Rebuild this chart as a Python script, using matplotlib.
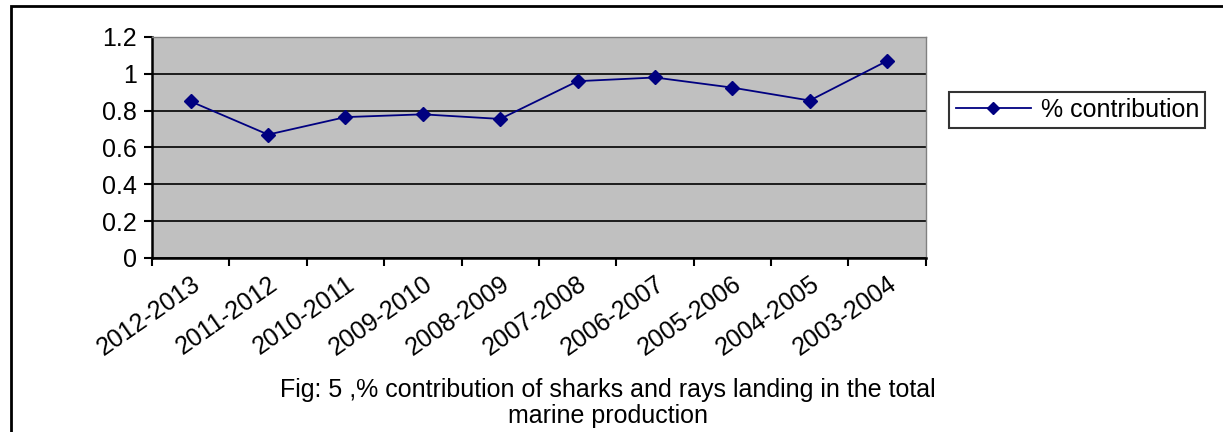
import matplotlib.pyplot as plt
from matplotlib.patches import Rectangle
from matplotlib.ticker import FixedLocator, NullFormatter

plt.rcParams['font.family'] = ['Liberation Sans', 'DejaVu Sans']

# data
years = ['2012-2013', '2011-2012', '2010-2011', '2009-2010', '2008-2009',
         '2007-2008', '2006-2007', '2005-2006', '2004-2005', '2003-2004']
contribution = [0.85, 0.67, 0.765, 0.78, 0.755, 0.96, 0.98, 0.925, 0.855, 1.07]
y_ticks = [0, 0.2, 0.4, 0.6, 0.8, 1, 1.2]
y_labels = ['0', '0.2', '0.4', '0.6', '0.8', '1', '1.2']

fig = plt.figure(figsize=(12.23, 4.32), dpi=100)
ax = fig.add_axes([0.1243, 0.4028, 0.6327, 0.5116])
ax.set_facecolor('#c0c0c0')

xs = list(range(len(years)))
line, = ax.plot(xs, contribution, color='#000080', lw=1.3, marker='D',
                markersize=7, markerfacecolor='#000080', markeredgecolor='#000080',
                label='% contribution', zorder=5)

ax.set_xlim(-0.5, len(years) - 0.5)
ax.set_ylim(0, 1.2)
ax.set_yticks(y_ticks)
ax.set_yticklabels(y_labels, fontsize=18)
ax.yaxis.grid(True, color='black', lw=1.2)
ax.set_axisbelow(True)

# tick marks sit between categories, labels at category centres
ax.xaxis.set_major_locator(FixedLocator([i - 0.5 for i in range(len(years) + 1)]))
ax.xaxis.set_major_formatter(NullFormatter())
ax.xaxis.set_minor_locator(FixedLocator(xs))
ax.set_xticklabels(years, minor=True, rotation=35, ha='right',
                   rotation_mode='anchor', fontsize=18)
ax.tick_params(axis='x', which='major', direction='out', length=6, width=1.5)
ax.tick_params(axis='x', which='minor', length=0, pad=10)
ax.tick_params(axis='y', direction='out', length=6, width=1.5, pad=5)

for side in ['left', 'bottom']:
    ax.spines[side].set_linewidth(1.8)
    ax.spines[side].set_color('black')
for side in ['top', 'right']:
    ax.spines[side].set_color('#808080')
    ax.spines[side].set_linewidth(1)

leg = fig.legend(handles=[line], loc='center left', bbox_to_anchor=(0.766, 0.745),
                 fontsize=18, frameon=True, fancybox=False, edgecolor='black',
                 handlelength=3, borderpad=0.25, handletextpad=0.4)
leg.get_frame().set_linewidth(1.5)
for h in leg.legend_handles:
    h.set_markersize(6)

fig.text(0.497, 0.068, 'Fig: 5 ,% contribution of sharks and rays landing in the total\nmarine production',
         ha='center', va='center', fontsize=18, linespacing=1.1)

# outer chart frame, cut off on the right and at the bottom
fig.patches.append(Rectangle((0.009, -0.1), 1.2, 1.086, transform=fig.transFigure,
                             fill=False, edgecolor='black', lw=2))

fig.savefig('out.png', dpi=100)
